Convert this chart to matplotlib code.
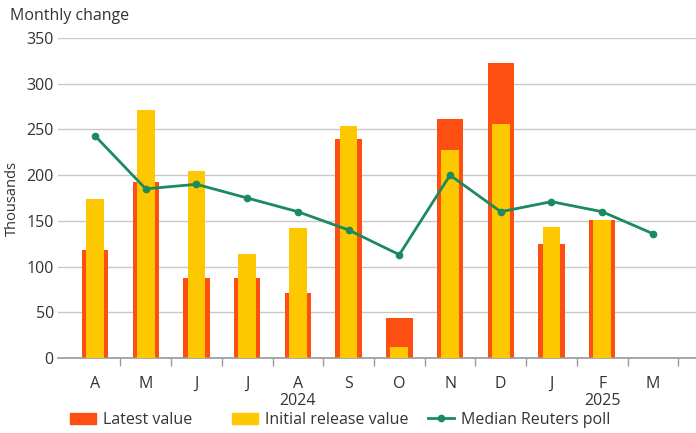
import matplotlib
matplotlib.use('Agg')
import matplotlib.pyplot as plt
from matplotlib.patches import Patch
from matplotlib.lines import Line2D
from matplotlib.transforms import blended_transform_factory
import numpy as np

months = ["A", "M", "J", "J", "A", "S", "O", "N", "D", "J", "F", "M"]
latest = [118, 192, 87, 88, 71, 239, 44, 261, 323, 125, 151]
initial = [174, 271, 205, 114, 142, 254, 12, 227, 256, 143, 151]
poll = [243, 185, 190, 175, 160, 140, 113, 200, 160, 171, 160, 136]
years = {"2024": 4, "2025": 10}

RED = "#fe4f12"
YELLOW = "#fdc800"
GREEN = "#1b8a5e"
TEXT = "#333333"

plt.rcParams['font.family'] = ['Open Sans', 'DejaVu Sans']

fig = plt.figure(figsize=(6.96, 4.33), dpi=100)
ax = fig.add_axes([58 / 696, 75 / 433, 638 / 696, 320 / 433])

x = np.arange(len(months))
xb = np.arange(len(latest))
ax.bar(xb, latest, width=0.52, color=RED, zorder=2)
ax.bar(xb, initial, width=0.35, color=YELLOW, zorder=3)
ax.plot(x, poll, color=GREEN, lw=2, marker='o', ms=4.5, zorder=4)

ax.set_xlim(-0.73, 11.85)
ax.set_ylim(0, 350)
ax.set_yticks(range(0, 351, 50))
ax.yaxis.grid(True, color="#c8c8c8", lw=1)
ax.set_axisbelow(True)
for s in ["top", "right", "left"]:
    ax.spines[s].set_visible(False)
ax.spines["bottom"].set_color("#999999")
ax.spines["bottom"].set_linewidth(1.2)

ax.set_xticks(x)
ax.set_xticklabels(months)
ax.tick_params(axis='x', which='major', length=0, pad=13, labelsize=11.5, labelcolor=TEXT)
ax.set_xticks(np.arange(0.5, 12, 1), minor=True)
ax.tick_params(axis='x', which='minor', length=6, color="#999999", width=1)
ax.tick_params(axis='y', length=0, pad=3, labelsize=11.5, labelcolor=TEXT)

ax.set_ylabel("Thousands", fontsize=10.5, color=TEXT, labelpad=5)
fig.text(10 / 696, 1 - 16 / 433, "Monthly change", fontsize=11.5, color=TEXT, va='center')

tr = blended_transform_factory(ax.transData, fig.transFigure)
for label, pos in years.items():
    ax.text(pos, 1 - 401 / 433, label, transform=tr, ha='center', va='center',
            fontsize=11.5, color=TEXT)

# legend entries placed individually along the bottom
handles = [
    Patch(color=RED, label="Latest value"),
    Patch(color=YELLOW, label="Initial release value"),
    Line2D([0], [0], color=GREEN, lw=2, marker='o', ms=4.5, label="Median Reuters poll"),
]
legend_x = [56, 218, 414]
for h, lx in zip(handles, legend_x):
    fig.legend(handles=[h], loc='center left', bbox_to_anchor=(lx / 696, 1 - 420 / 433),
               frameon=False, fontsize=11.5, handlelength=1.6, handleheight=0.75,
               handletextpad=0.45, labelcolor=TEXT)

fig.savefig("out.png", dpi=100)
